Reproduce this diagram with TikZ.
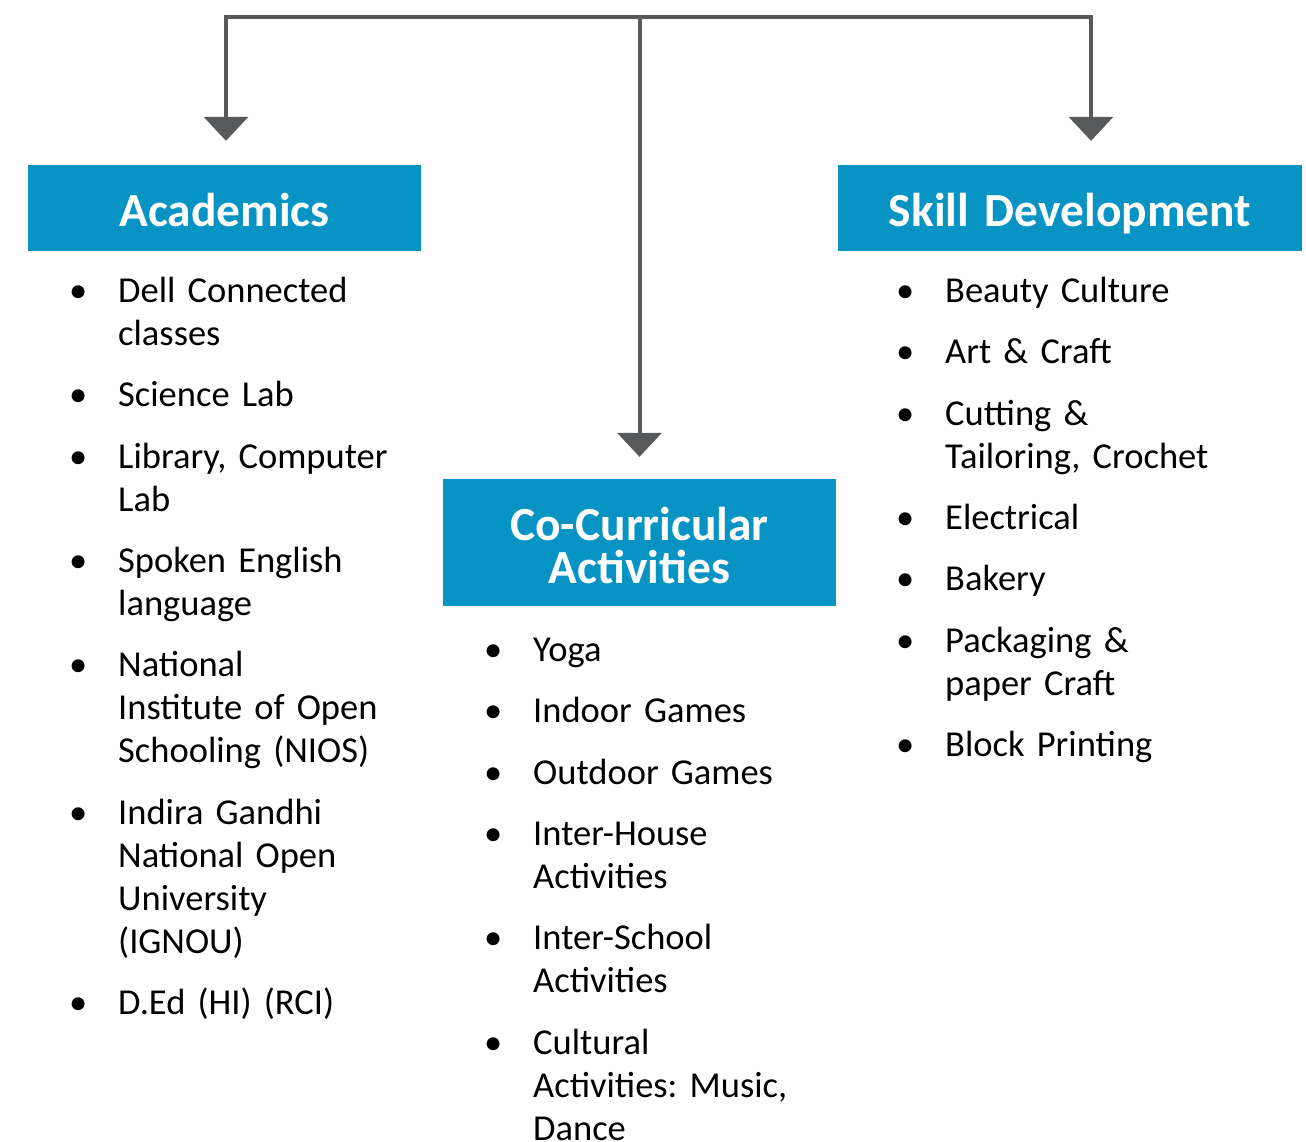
\documentclass[tikz,border=0pt]{standalone}
\usepackage{fontspec}
\setmainfont{Carlito}
\usetikzlibrary{positioning}
\usetikzlibrary{chains}
\usetikzlibrary{arrows.meta}
\definecolor{headblue}{RGB}{7,147,196}
\definecolor{linegray}{RGB}{88,89,91}
\newcommand{\bulletmark}{\noindent\llap{\textbullet\hspace{31pt}}\strut}
\frenchspacing

\begin{document}
\begin{tikzpicture}[x=1pt,y=-1pt,
        node distance = 18pt,
        head/.style = {fill=headblue,text=white,align=center,inner sep=0pt,
            font=\fontsize{47.5}{43}\selectfont\bfseries},
        entry/.style = {on chain,align=left,text width=300pt,inner sep=0pt,
            font=\fontsize{36.5}{43}\selectfont\frenchspacing},
        link/.style = {draw=linegray,line width=4pt,
            -{Triangle[width=44pt,length=24pt]}}]
    \useasboundingbox (0,0) rectangle (1306,1142);
    \node[head,minimum width=393pt,minimum height=86pt,text width=393pt,
        text height=36pt,text depth=0pt] (acad) at (224.5,208) {Academics};
    \node[head,minimum width=393pt,minimum height=127pt,text width=393pt,
        text height=20pt,text depth=25pt] (cocur) at (639.5,542.5) {Co-Curricular\\Activities};
    \node[head,minimum width=464pt,minimum height=86pt,text width=464pt,
        text height=36pt,text depth=0pt] (skill) at (1070,208) {Skill Development};
    \coordinate (top) at (639.5,17);
    \draw[link,shorten >=24pt] (top) -| ([xshift=1.5pt]acad.north);
    \draw[link,shorten >=22pt] (top) -- (cocur.north);
    \draw[link,shorten >=24pt] (top) -| ([xshift=21pt]skill.north);
    \begin{scope}[start chain=going below]
        \node[entry,anchor=north west] (a1) at (118,272) {\bulletmark Dell Connected\\classes\strut};
        \node[entry] (a2) {\bulletmark Science Lab\strut};
        \node[entry] (a3) {\bulletmark Library, Computer\\Lab\strut};
        \node[entry] (a4) {\bulletmark Spoken English\\language\strut};
        \node[entry] (a5) {\bulletmark National\\Institute of Open\\Schooling (NIOS)\strut};
        \node[entry] (a6) {\bulletmark Indira Gandhi\\National Open\\University\\(IGNOU)\strut};
        \node[entry] (a7) {\bulletmark D.Ed (HI) (RCI)\strut};
    \end{scope}
    \begin{scope}[start chain=going below]
        \node[entry,anchor=north west] (c1) at (533,631) {\bulletmark Yoga\strut};
        \node[entry] (c2) {\bulletmark Indoor Games\strut};
        \node[entry] (c3) {\bulletmark Outdoor Games\strut};
        \node[entry] (c4) {\bulletmark Inter-House\\Activities\strut};
        \node[entry] (c5) {\bulletmark Inter-School\\Activities\strut};
        \node[entry] (c6) {\bulletmark Cultural\\Activities: Music,\\Dance\strut};
    \end{scope}
    \begin{scope}[start chain=going below]
        \node[entry,anchor=north west] (s1) at (945,272) {\bulletmark Beauty Culture\strut};
        \node[entry] (s2) {\bulletmark Art \& Craft\strut};
        \node[entry] (s3) {\bulletmark Cutting \&\\Tailoring, Crochet\strut};
        \node[entry] (s4) {\bulletmark Electrical\strut};
        \node[entry] (s5) {\bulletmark Bakery\strut};
        \node[entry] (s6) {\bulletmark Packaging \&\\paper Craft\strut};
        \node[entry] (s7) {\bulletmark Block Printing\strut};
    \end{scope}
\end{tikzpicture}
\end{document}
